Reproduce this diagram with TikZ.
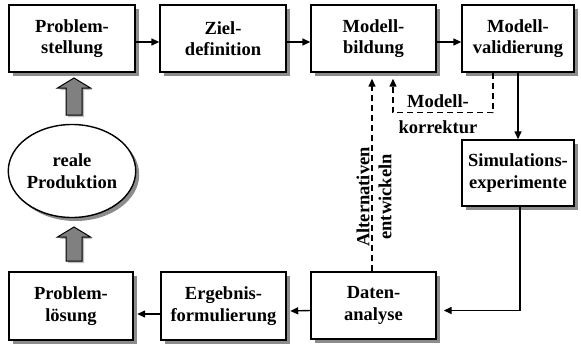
\documentclass[tikz,border=0pt]{standalone}
\usepackage{fontspec}
\setmainfont{Liberation Serif}
\usetikzlibrary{arrows.meta,shapes.geometric,shadows}
\begin{document}
\begin{tikzpicture}[x=1pt,y=-1pt,
  font=\fontsize{18.5}{21.5}\selectfont\bfseries,
  shadowed/.style={drop shadow={shadow xshift=3.5pt,shadow yshift=-3.5pt,fill=black!45,opacity=1}},
  stepbox/.style={draw,line width=1.4pt,fill=white,shadowed,align=center,inner sep=0pt,minimum height=67pt},
  flow/.style={line width=1.4pt,-{Triangle[length=8pt,width=7pt]}},
  back/.style={flow,dash pattern=on 6pt off 4pt},
  blockarrow/.style={draw,line width=1pt,fill=black!50,
    drop shadow={shadow xshift=2pt,shadow yshift=-2pt,fill=black!25,opacity=1}}]
\useasboundingbox (0,0) rectangle (581,343);

% process steps
\node[stepbox,minimum width=126pt] (ps) at (72,38.5) {Problem-\\stellung};
\node[stepbox,minimum width=126pt] (zd) at (223,38.5) {Ziel-\\definition};
\node[stepbox,minimum width=125pt] (mb) at (373.5,38.5) {Modell-\\bildung};
\node[stepbox,minimum width=112pt] (mv) at (518,38.5) {Modell-\\validierung};
\node[stepbox,minimum width=112pt,minimum height=66pt] (se) at (518,173) {Simulations-\\experimente};
\node[stepbox,minimum width=125pt] (dl) at (373.5,305.5) {Daten-\\analyse};
\node[stepbox,minimum width=125pt,minimum height=68pt] (ef) at (223.5,306) {Ergebnis-\\formulierung};
\node[stepbox,minimum width=124pt,minimum height=68pt] (pl) at (71,306) {Problem-\\lösung};

% real production
\node[ellipse,draw,line width=1.4pt,fill=white,shadowed,minimum width=113pt,
  minimum height=93pt,inner sep=0pt,align=center] (rp) at (72,171) {reale\\Produktion};

% wide gray arrows
\draw[blockarrow] (74,78) -- (90.5,88) -- (82,88) -- (82,115) -- (66,115)
  -- (66,88) -- (57.5,88) -- cycle;
\draw[blockarrow] (74,227) -- (90.5,237) -- (82,237) -- (82,261) -- (66,261)
  -- (66,237) -- (57.5,237) -- cycle;

% main flow
\draw[flow] ([yshift=-3.5pt]ps.east) -- ([yshift=-3.5pt]zd.west);
\draw[flow] ([yshift=-3.5pt]zd.east) -- ([yshift=-3.5pt]mb.west);
\draw[flow] ([yshift=-3.5pt]mb.east) -- ([yshift=-3.5pt]mv.west);
\draw[flow] (mv.south) -- (se.north);
\draw[flow] ([xshift=2pt]se.south) |- ([xshift=7pt,yshift=-5pt]dl.east);
\draw[flow] ([yshift=-5pt]dl.west) -- ([xshift=3.5pt,yshift=-5pt]ef.east);
\draw[flow] ([yshift=-8pt]ef.west) -- ([xshift=3.5pt,yshift=-8pt]pl.east);

% feedback loops
\draw[back] ([xshift=-25pt]mv.south) -- ++(0,40) -| ([xshift=19.5pt,yshift=-6pt]mb.south);
\node[align=center,inner sep=0pt,font=\fontsize{18.5}{26}\selectfont\bfseries] (mk) at (438,113.7) {Modell-\\korrektur};
\draw[back] ([xshift=-1.5pt]dl.north) -- ([xshift=-1.5pt,yshift=-6pt]mb.south);
\node[rotate=90,align=center,font=\fontsize{18.5}{22}\selectfont\bfseries] (ae) at (374,197) {Alternativen\\entwickeln};
\end{tikzpicture}
\end{document}
